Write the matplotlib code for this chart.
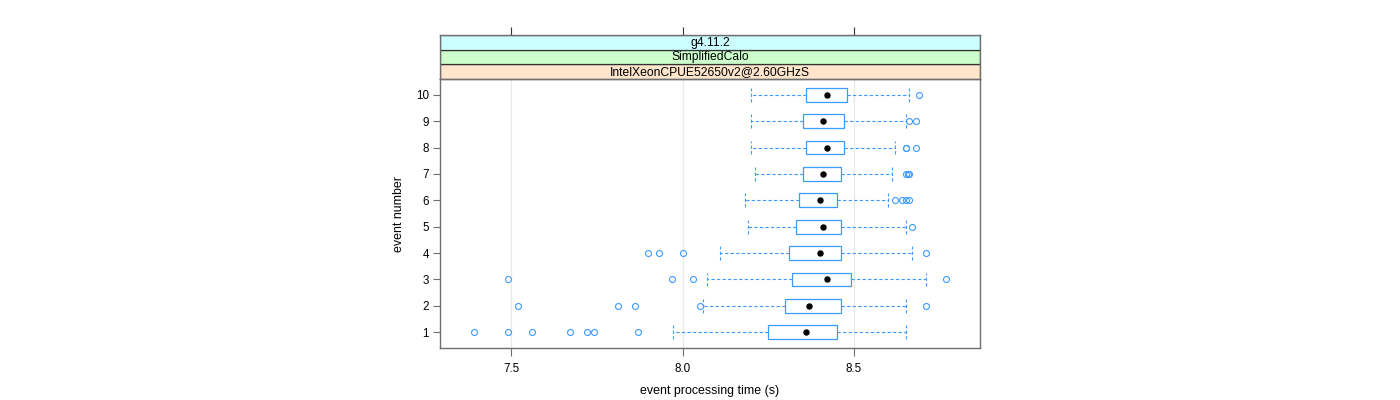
import matplotlib.pyplot as plt
from matplotlib.patches import Rectangle

plt.rcParams['font.family'] = ['Liberation Sans', 'DejaVu Sans']

events = [1, 2, 3, 4, 5, 6, 7, 8, 9, 10]
whisker_lo = [7.971, 8.060, 8.070, 8.110, 8.191, 8.181, 8.211, 8.201, 8.201, 8.201]
q1 = [8.250, 8.300, 8.320, 8.310, 8.330, 8.340, 8.350, 8.360, 8.350, 8.360]
medians = [8.360, 8.370, 8.421, 8.401, 8.411, 8.401, 8.411, 8.421, 8.411, 8.421]
q3 = [8.451, 8.461, 8.491, 8.461, 8.461, 8.451, 8.461, 8.471, 8.471, 8.481]
whisker_hi = [8.651, 8.651, 8.710, 8.671, 8.651, 8.600, 8.610, 8.620, 8.651, 8.661]
outliers = [
    [7.391, 7.491, 7.560, 7.671, 7.721, 7.741, 7.870],
    [7.521, 7.811, 7.860, 8.050, 8.710],
    [7.491, 7.970, 8.030, 8.770],
    [7.900, 7.930, 8.000, 8.710],
    [8.671],
    [8.620, 8.641, 8.651, 8.661],
    [8.651, 8.658, 8.661],
    [8.651, 8.653, 8.681],
    [8.660, 8.681],
    [8.690],
]
strip_labels = ['IntelXeonCPUE52650v2@2.60GHzS', 'SimplifiedCalo', 'g4.11.2']
strip_colors = ['#ffe5cc', '#ccffcc', '#ccffff']
x_ticks = [7.5, 8.0, 8.5]

blue = '#3d9bff'
frame = '#6e6e6e'
xlim = (7.292, 8.868)

fig = plt.figure(figsize=(14, 4), dpi=100)
ax = fig.add_axes([440 / 1400, 1 - 348 / 400, 540 / 1400, 269 / 400])

stats = []
for i in range(len(events)):
    stats.append({
        'whislo': whisker_lo[i], 'q1': q1[i], 'med': medians[i], 'q3': q3[i],
        'whishi': whisker_hi[i], 'fliers': outliers[i], 'mean': medians[i],
    })

ax.bxp(stats, positions=events, orientation='horizontal', widths=0.52, capwidths=0.52,
       showmeans=True, patch_artist=True,
       boxprops=dict(facecolor='white', edgecolor=blue, linewidth=0.9),
       whiskerprops=dict(color=blue, linestyle=(0, (3, 2)), linewidth=0.8),
       capprops=dict(color=blue, linestyle=(0, (3, 2)), linewidth=0.8),
       medianprops=dict(linewidth=0),
       meanprops=dict(marker='o', markerfacecolor='black', markeredgecolor='black', markersize=3.6),
       flierprops=dict(marker='o', markerfacecolor='none', markeredgecolor=blue,
                       markersize=4.3, markeredgewidth=0.8))

for xv in x_ticks:
    ax.axvline(xv, color='#e8e8e8', linewidth=0.9, zorder=0)

ax.set_xlim(*xlim)
ax.set_ylim(0.4, 10.6)
ax.set_xticks(x_ticks)
ax.set_xticklabels(['7.5', '8.0', '8.5'])
ax.set_yticks(events)
ax.set_yticklabels([str(e) for e in events])
ax.tick_params(axis='x', labelsize=8.4, length=6, width=0.8, color=frame, pad=5)
ax.tick_params(axis='y', labelsize=8.4, length=5, width=0.8, color=frame, pad=3)
for sp in ax.spines.values():
    sp.set_color(frame)
    sp.set_linewidth(1.0)
ax.set_xlabel('event processing time (s)', fontsize=8.9, labelpad=7)
ax.set_ylabel('event number', fontsize=8.9, labelpad=8)

# strips on top
sax = fig.add_axes([440 / 1400, 1 - 79 / 400, 540 / 1400, 44 / 400])
sax.set_xlim(*xlim)
sax.set_ylim(0, 3)
for i, (lab, col) in enumerate(zip(strip_labels, strip_colors)):
    sax.add_patch(Rectangle((xlim[0], i), xlim[1] - xlim[0], 1, facecolor=col,
                            edgecolor='#333333', linewidth=0.9))
    sax.text((xlim[0] + xlim[1]) / 2, i + 0.47, lab, ha='center', va='center', fontsize=8.7)
sax.set_yticks([])
sax.set_xticks(x_ticks)
sax.xaxis.set_ticks_position('top')
sax.tick_params(axis='x', labeltop=False, labelbottom=False, length=6, width=0.8, color='#333333')
for sp in sax.spines.values():
    sp.set_color(frame)
    sp.set_linewidth(1.0)

fig.savefig('out.png', dpi=100)
